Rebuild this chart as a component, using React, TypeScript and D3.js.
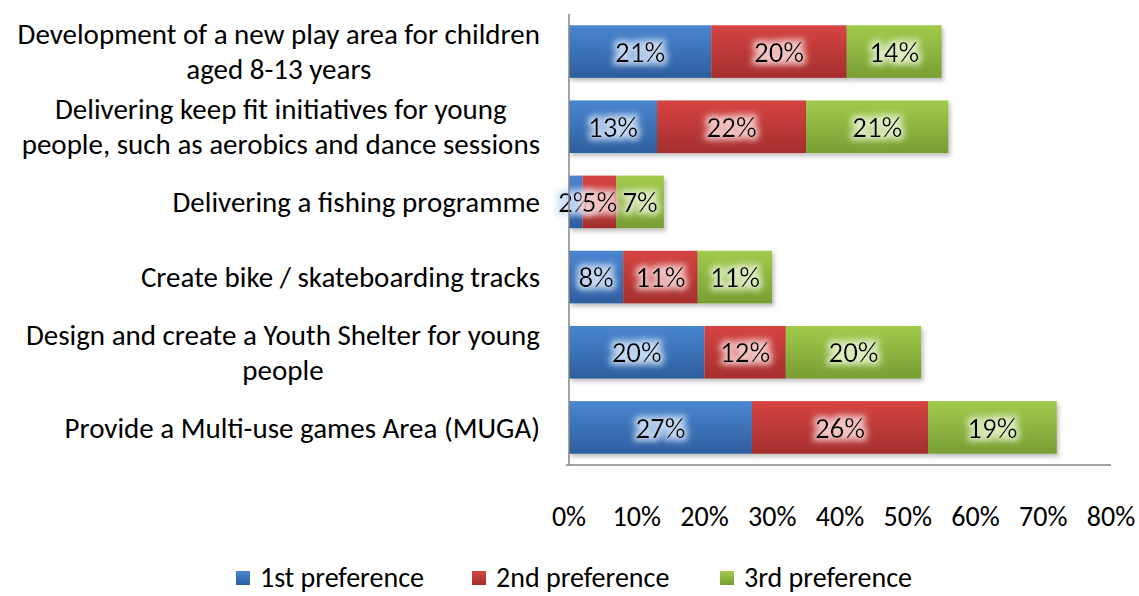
import React, { useEffect, useRef } from "react";
import * as d3 from "d3";

const categories: string[][] = [
  ["Development of a new play area for children", "aged 8-13 years"],
  ["Delivering keep fit initiatives for young", "people, such as aerobics and dance sessions"],
  ["Delivering a fishing programme"],
  ["Create bike / skateboarding tracks"],
  ["Design and create a Youth Shelter for young", "people"],
  ["Provide a Multi-use games Area (MUGA)"],
];
const seriesNames = ["1st preference", "2nd preference", "3rd preference"];
const first = [21, 13, 2, 8, 20, 27];
const second = [20, 22, 5, 11, 12, 26];
const third = [14, 21, 7, 11, 20, 19];
const xTicks = [0, 10, 20, 30, 40, 50, 60, 70, 80];

const colors = [
  { top: "#4A86D0", bottom: "#2D5E9E", glow: "#C9DCF5" },
  { top: "#D64443", bottom: "#A42E2D", glow: "#F6CACA" },
  { top: "#A2CA4C", bottom: "#789E33", glow: "#E0EFC4" },
];

const FONT = "Carlito, Calibri, Lato, 'Open Sans', sans-serif";

export default function App() {
  const ref = useRef<SVGSVGElement>(null);
  useEffect(() => {
    const svg = d3.select(ref.current);
    svg.selectAll("*").remove();
    const W = 1139, H = 596;
    const x = d3.scaleLinear().domain([0, 80]).range([569, 1111]);
    const ids = categories.map((_, i) => String(i));
    const y = d3.scaleBand().domain(ids).range([14, 465]).paddingInner(0.3).paddingOuter(0.15);

    const defs = svg.append("defs");
    colors.forEach((c, i) => {
      const g = defs.append("linearGradient").attr("id", "g" + i).attr("x1", 0).attr("y1", 0).attr("x2", 0).attr("y2", 1);
      g.append("stop").attr("offset", "0%").attr("stop-color", c.top);
      g.append("stop").attr("offset", "100%").attr("stop-color", c.bottom);
    });
    const sh = defs.append("filter").attr("id", "shadow").attr("x", "-5%").attr("y", "-20%").attr("width", "115%").attr("height", "150%");
    sh.append("feDropShadow").attr("dx", 2).attr("dy", 3).attr("stdDeviation", 2).attr("flood-color", "#000").attr("flood-opacity", 0.25);
    colors.forEach((c, i) => {
      const f = defs.append("filter").attr("id", "glow" + i).attr("x", "-30%").attr("y", "-30%").attr("width", "160%").attr("height", "160%");
      f.append("feMorphology").attr("in", "SourceAlpha").attr("operator", "dilate").attr("radius", 3).attr("result", "d");
      f.append("feGaussianBlur").attr("in", "d").attr("stdDeviation", 3).attr("result", "b");
      f.append("feFlood").attr("flood-color", c.glow).attr("flood-opacity", 0.95).attr("result", "fl");
      f.append("feComposite").attr("in", "fl").attr("in2", "b").attr("operator", "in").attr("result", "gl");
      const m = f.append("feMerge");
      m.append("feMergeNode").attr("in", "gl");
      m.append("feMergeNode").attr("in", "SourceGraphic");
    });

    svg.append("rect").attr("width", W).attr("height", H).attr("fill", "#fff");

    const stackData = categories.map((_, i) => ({ id: ids[i], a: first[i], b: second[i], c: third[i] }));
    const stack = d3.stack<any>().keys(["a", "b", "c"])(stackData);

    const barsG = svg.append("g");
    stack.forEach((layer, si) => {
      barsG.append("g").attr("filter", "url(#shadow)")
        .selectAll("rect").data(layer).join("rect")
        .attr("x", (d: any) => x(d[0]))
        .attr("y", (d: any) => y(d.data.id)!)
        .attr("width", (d: any) => x(d[1]) - x(d[0]))
        .attr("height", y.bandwidth())
        .attr("fill", `url(#g${si})`);
    });
    stack.forEach((layer, si) => {
      barsG.append("g").selectAll("text").data(layer).join("text")
        .attr("x", (d: any) => (x(d[0]) + x(d[1])) / 2)
        .attr("y", (d: any) => y(d.data.id)! + y.bandwidth() / 2)
        .attr("dy", "0.35em")
        .attr("text-anchor", "middle")
        .attr("font-family", FONT)
        .attr("font-size", 29)
        .attr("fill", "#000")
        .attr("filter", `url(#glow${si})`)
        .text((d: any) => `${d[1] - d[0]}%`);
    });

    // axes
    svg.append("line").attr("x1", 569).attr("x2", 569).attr("y1", 14).attr("y2", 465).attr("stroke", "#868686").attr("stroke-width", 1.5);
    svg.append("line").attr("x1", 566).attr("x2", 1111).attr("y1", 465).attr("y2", 465).attr("stroke", "#868686").attr("stroke-width", 1.5);

    svg.append("g").selectAll("text").data(xTicks).join("text")
      .attr("x", (d) => x(d))
      .attr("y", 526)
      .attr("text-anchor", "middle")
      .attr("font-family", FONT)
      .attr("font-size", 28)
      .attr("fill", "#000")
      .text((d) => `${d}%`);

    // category labels
    const labG = svg.append("g");
    categories.forEach((lines, i) => {
      const cy = y(ids[i])! + y.bandwidth() / 2;
      const lh = 35;
      const g = labG.append("g");
      const texts = lines.map((ln, k) =>
        g.append("text")
          .attr("y", cy + (k - (lines.length - 1) / 2) * lh)
          .attr("dy", "0.35em")
          .attr("font-family", FONT)
          .attr("font-size", 29)
          .attr("fill", "#000")
          .attr("text-anchor", "middle")
          .text(ln)
      );
      const widths = texts.map((t) => (t.node() as SVGTextElement).getComputedTextLength());
      const maxW = Math.max(...widths);
      const cx = 540 - maxW / 2;
      texts.forEach((t) => t.attr("x", cx));
    });

    // legend
    const legX = [236, 472, 720];
    seriesNames.forEach((n, i) => {
      svg.append("rect").attr("x", legX[i]).attr("y", 571).attr("width", 14).attr("height", 14).attr("fill", `url(#g${i})`);
      svg.append("text").attr("x", legX[i] + 24).attr("y", 577).attr("dy", "0.35em")
        .attr("font-family", FONT).attr("font-size", 28).attr("fill", "#000").text(n);
    });
  }, []);
  return (
    <svg ref={ref} width={1139} height={596} style={{ display: "block", position: "absolute", left: 0, top: 0 }} />
  );
}
